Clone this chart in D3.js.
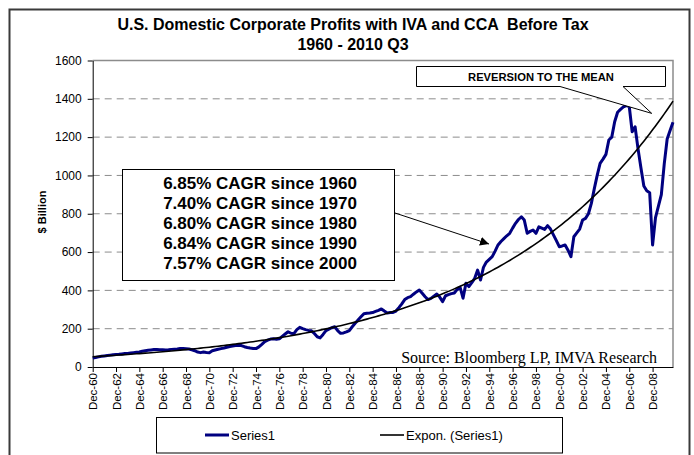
<!DOCTYPE html>
<html>
  <head>
    <meta charset="utf-8">
    <script src="https://d3js.org/d3.v7.min.js"></script>
    <style>
      body { margin: 0; background: white; }
      svg text { font-family: "Liberation Sans", Arial, sans-serif; }
    </style>
  </head>
  <body>
    <div id="chart"></div>
    <script>
      // quarterly profits, $ billion, Dec-60 (1960 Q4) through 2010 Q3
      const profits = [
        47,
        50, 53, 56, 58,       60, 62, 64, 65,       66, 68, 70, 71,       73, 75, 77, 78,
        82, 85, 87, 89,       91, 91, 90, 90,       89, 90, 92, 93,       94, 96, 96, 95,
        94, 90, 85, 78,       75, 78, 76, 75,       85, 89, 93, 96,       99, 103, 107, 110,
        112, 114, 112, 106,   102, 99, 97, 96,      105, 118, 132, 140,   146, 147, 145, 147,
        160, 172, 184, 176,   174, 195, 207, 200,   195, 191, 189, 175,   158, 152, 170, 190,
        198, 205, 210, 190,   176, 178, 183, 190,   210, 228, 245, 262,   278, 281, 282, 284,
        290, 296, 303, 292,   282, 284, 285, 292,   310, 330, 352, 362,   367, 380, 392, 402,
        385, 367, 352, 358,   370, 381, 365, 341,   372, 378, 383, 386,   405, 416, 359, 437,
        420, 440, 463, 506,   454, 520, 548, 562,   576, 605, 637, 655,   670, 685, 698, 725,
        750, 770, 784, 767,   698, 708, 715, 698,   732, 725, 718, 738,   720, 690, 660, 628,
        632, 637, 610, 576,   680, 700, 720, 767,   776, 800, 854, 930,   1000, 1063, 1085, 1110,
        1185, 1200, 1280, 1330, 1345, 1358, 1365, 1360, 1228, 1254, 1140, 1040, 945, 920, 910, 637,
        780, 840, 900, 1060,  1190, 1235, 1278
      ]
      const tickLabels = ["Dec-60", "Dec-62", "Dec-64", "Dec-66", "Dec-68", "Dec-70", "Dec-72",
        "Dec-74", "Dec-76", "Dec-78", "Dec-80", "Dec-82", "Dec-84", "Dec-86", "Dec-88", "Dec-90",
        "Dec-92", "Dec-94", "Dec-96", "Dec-98", "Dec-00", "Dec-02", "Dec-04", "Dec-06", "Dec-08"]
      const quartersPerLabel = 8
      const yTicks = [0, 200, 400, 600, 800, 1000, 1200, 1400, 1600]
      const cagrLines = ["6.85% CAGR since 1960", "7.40% CAGR since 1970", "6.80% CAGR since 1980",
        "6.84% CAGR since 1990", "7.57% CAGR since 2000"]
      const titleLines = ["U.S. Domestic Corporate Profits with IVA and CCA  Before Tax", "1960 - 2010 Q3"]
      const legendLabels = ["Series1", "Expon. (Series1)"]
      const calloutText = "REVERSION TO THE MEAN"
      const sourceText = "Source: Bloomberg LP, IMVA Research"
    </script>
    <script> if (true) {
        const width = 694, height = 455
        const plot = {left: 92.7, right: 673, top: 60.5, bottom: 367}

        const svg = d3.select('#chart').append('svg')
                      .attr('width', width)
                      .attr('height', height)

        svg.append('rect').attr('width', width).attr('height', height).attr('fill', 'white')
        // outer chart frame
        svg.append('rect')
           .attr('x', 9.5).attr('y', 9.5).attr('width', 680).attr('height', 470)
           .attr('fill', 'none').attr('stroke', '#3a3a3a').attr('stroke-width', 2)

        const x = d3.scaleLinear().domain([0, profits.length - 1]).range([plot.left, plot.right])
        const y = d3.scaleLinear().domain([0, 1600]).range([plot.bottom, plot.top])

        // exponential trendline (least squares on ln y, like Excel's Expon.)
        const n = profits.length
        const xs = d3.range(1, n + 1)
        const ls = profits.map(Math.log)
        const mx = d3.mean(xs), ml = d3.mean(ls)
        const b = d3.sum(xs, (v, i) => (v - mx) * (ls[i] - ml)) / d3.sum(xs, v => (v - mx) ** 2)
        const a = Math.exp(ml - b * mx)
        const trend = xs.map(v => a * Math.exp(b * v))

        // gridlines
        svg.append('g').selectAll('line')
           .data(yTicks.filter(v => v > 0 && v < 1600))
           .join('line')
             .attr('x1', plot.left).attr('x2', plot.right)
             .attr('y1', d => y(d)).attr('y2', d => y(d))
             .attr('stroke', '#8c8c8c').attr('stroke-dasharray', '7,5')
        // plot area top/right border
        svg.append('path')
           .attr('d', `M${plot.left},${y(1600)}H${plot.right}V${plot.bottom}`)
           .attr('fill', 'none').attr('stroke', '#8c8c8c').attr('stroke-width', 1.5)

        // axes
        const yAxis = svg.append('g')
           .attr('transform', `translate(${plot.left},0)`)
           .call(d3.axisLeft(y).tickValues(yTicks).tickFormat(d3.format('d'))
             .tickSize(5).tickSizeOuter(0).tickPadding(6))
        yAxis.selectAll('text').attr('font-size', 12).attr('fill', '#000')
        yAxis.selectAll('line, path').attr('stroke', '#000')

        const xAxis = svg.append('g')
           .attr('transform', `translate(0,${plot.bottom})`)
           .call(d3.axisBottom(x)
             .tickValues(d3.range(0, n, quartersPerLabel))
             .tickFormat(i => tickLabels[i / quartersPerLabel])
             .tickSize(5).tickSizeOuter(0))
        xAxis.selectAll('line, path').attr('stroke', '#000')
        xAxis.selectAll('text')
             .attr('font-size', 11.5).attr('fill', '#000')
             .attr('transform', 'rotate(-90)')
             .attr('text-anchor', 'end')
             .attr('x', -6).attr('y', 0).attr('dy', '0.35em')

        // y title
        svg.append('text')
           .attr('transform', `translate(46,212) rotate(-90)`)
           .attr('text-anchor', 'middle')
           .attr('font-size', 11).attr('font-weight', 'bold')
           .text('$ Billion')

        // series
        const line = d3.line().x((d, i) => x(i)).y(d => y(d))
        svg.append('path')
           .datum(profits)
           .attr('d', line)
           .attr('fill', 'none').attr('stroke', '#000080').attr('stroke-width', 3)
           .attr('stroke-linejoin', 'round')
        svg.append('path')
           .datum(trend)
           .attr('d', line)
           .attr('fill', 'none').attr('stroke', '#000').attr('stroke-width', 1.6)

        // title
        svg.append('g').selectAll('text')
           .data(titleLines)
           .join('text')
             .attr('x', 353).attr('y', (d, i) => 30 + i * 20)
             .attr('text-anchor', 'middle')
             .attr('font-size', 16).attr('font-weight', 'bold')
             .style('white-space', 'pre')
             .text(d => d)

        // source
        svg.append('text')
           .attr('x', 657).attr('y', 363)
           .attr('text-anchor', 'end')
           .attr('font-size', 16)
           .style('font-family', '"Liberation Serif", "Times New Roman", serif')
           .text(sourceText)

        // callout "REVERSION TO THE MEAN"
        const tip = [x(191.7), y(1324)]
        svg.append('path')
           .attr('d', `M416.5,66.5H665.5V86.5H623L${tip[0]},${tip[1]}L560,86.5H416.5Z`)
           .attr('fill', 'white').attr('stroke', '#000').attr('stroke-width', 1)
        svg.append('text')
           .attr('x', 541).attr('y', 80.5)
           .attr('text-anchor', 'middle')
           .attr('font-size', 11.2).attr('font-weight', 'bold')
           .text(calloutText)

        // CAGR box with arrow
        svg.append('defs').append('marker')
           .attr('id', 'arrow').attr('viewBox', '0 0 10 10')
           .attr('refX', 10).attr('refY', 5)
           .attr('markerWidth', 9).attr('markerHeight', 9)
           .attr('markerUnits', 'userSpaceOnUse')
           .attr('orient', 'auto')
           .append('path').attr('d', 'M0,0L10,5L0,10Z').attr('fill', '#000')
        svg.append('line')
           .attr('x1', 395).attr('y1', 213)
           .attr('x2', x(135.9)).attr('y2', y(642))
           .attr('stroke', '#000').attr('stroke-width', 1)
           .attr('marker-end', 'url(#arrow)')
        svg.append('rect')
           .attr('x', 122.5).attr('y', 169.5).attr('width', 272).attr('height', 111)
           .attr('fill', 'white').attr('stroke', '#000').attr('stroke-width', 1)
        svg.append('g').selectAll('text')
           .data(cagrLines)
           .join('text')
             .attr('x', 260).attr('y', (d, i) => 188.5 + i * 20)
             .attr('text-anchor', 'middle')
             .attr('font-size', 17).attr('font-weight', 'bold')
             .text(d => d)

        // legend
        svg.append('rect')
           .attr('x', 156.5).attr('y', 417.5).attr('width', 406).attr('height', 35.5)
           .attr('fill', 'white').attr('stroke', '#000').attr('stroke-width', 1)
        const legendItems = [
          {label: legendLabels[0], x: 205, color: '#000080', w: 3},
          {label: legendLabels[1], x: 380, color: '#000', w: 1.6}
        ]
        const lg = svg.append('g').selectAll('g').data(legendItems).join('g')
        lg.append('line')
          .attr('x1', d => d.x).attr('x2', d => d.x + 24)
          .attr('y1', 435).attr('y2', 435)
          .attr('stroke', d => d.color).attr('stroke-width', d => d.w)
        lg.append('text')
          .attr('x', d => d.x + 26).attr('y', 435).attr('dy', '0.35em')
          .attr('font-size', 13)
          .text(d => d.label)
      };
    </script>
  </body>
</html>
